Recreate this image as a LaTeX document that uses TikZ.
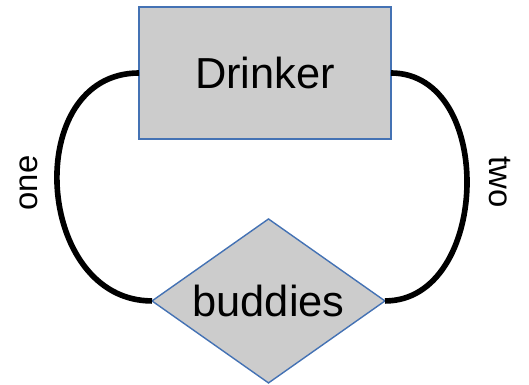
\documentclass[tikz,border=0pt]{standalone}
\usepackage{fontspec}
\setmainfont{Liberation Sans}
\usepackage{xcolor}
\usetikzlibrary{shapes,shapes.geometric,positioning}
\definecolor{erblue}{RGB}{68,114,180}
\definecolor{ergray}{RGB}{204,204,204}
\begin{document}
\begin{tikzpicture}[x=0.02cm,y=0.02cm]
        \tikzstyle{entity}=[rectangle, minimum width = 5.04cm, minimum height = 2.64cm, draw = erblue, line width = 0.8pt, fill = ergray, inner sep = 0pt, outer sep = 0pt, font = \fontsize{24.7}{30}\selectfont]
        \tikzstyle{relation}=[diamond, shape aspect = 1.42, minimum width = 4.66cm, minimum height = 3.28cm, draw = erblue, line width = 0.8pt, fill = ergray, inner sep = 0pt, outer sep = 0pt, font = \fontsize{24.7}{30}\selectfont]
        \tikzstyle{role}=[inner sep = 0pt, font = \fontsize{18.7}{22}\selectfont]
        \tikzstyle{connect}=[line width = 3.2pt]
        \useasboundingbox (0,0) rectangle (529,385);
        \node[entity] (drinker) at (265,312) {Drinker};
        \node[relation] (buddies) [below=1.6cm of drinker, xshift=0.07cm] {buddies};
        \node[role, rotate=90] (one) at (29,202) {one};
        \node[role, rotate=-90] (two) at (500,203) {two};
        \path (drinker.west) edge [connect, out=180, in=180, looseness=1.32] (buddies.west)
        (drinker.east) edge [connect, out=0, in=0, looseness=1.18] (buddies.east);
      \end{tikzpicture}
\end{document}
